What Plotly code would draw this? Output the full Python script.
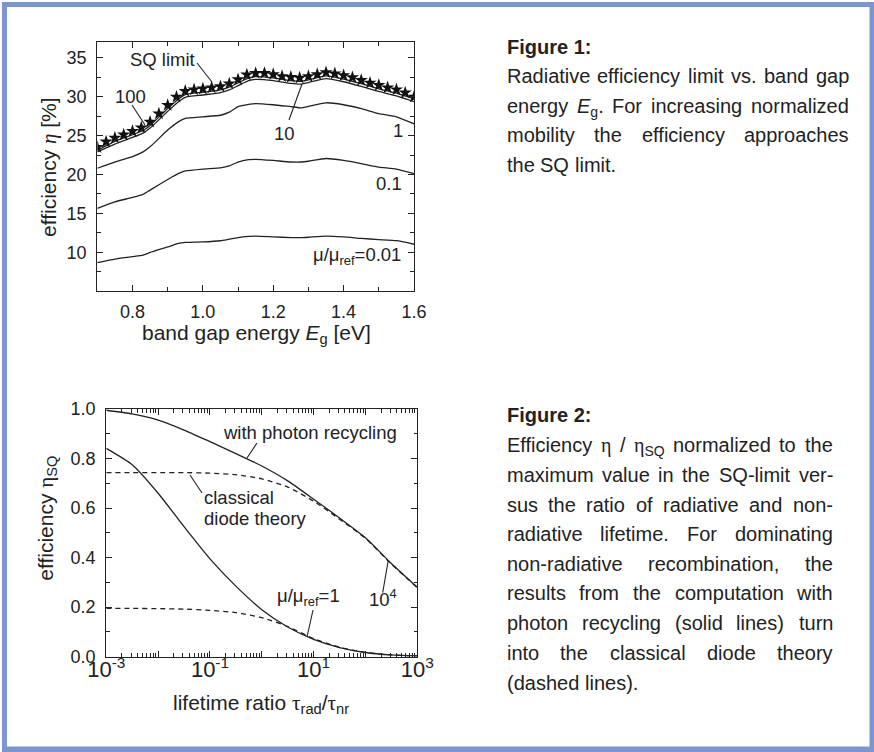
import plotly.graph_objects as go

# ---------------- data: Figure 1 ----------------
eg_stars = [0.700, 0.725, 0.750, 0.775, 0.800, 0.825, 0.850, 0.875, 0.900, 0.925,
            0.950, 0.975, 1.000, 1.025, 1.050, 1.075, 1.100, 1.125, 1.150, 1.175,
            1.200, 1.225, 1.250, 1.275, 1.300, 1.325, 1.350, 1.375, 1.400, 1.425,
            1.450, 1.475, 1.500, 1.525, 1.550, 1.575, 1.600]
eta_sq = [23.5, 24.2, 24.7, 25.1, 25.55, 26.0, 26.75, 27.8, 28.9, 29.95,
          30.7, 30.9, 31.0, 31.15, 31.3, 31.65, 32.2, 32.8, 33.0, 33.0,
          32.85, 32.6, 32.5, 32.4, 32.6, 32.85, 33.1, 32.95, 32.7, 32.45,
          32.1, 31.75, 31.45, 31.15, 30.9, 30.5, 29.95]

eg = [0.70, 0.75, 0.80, 0.83, 0.85, 0.90, 0.93, 0.95, 1.00, 1.05, 1.075, 1.10,
      1.13, 1.15, 1.20, 1.25, 1.28, 1.30, 1.35, 1.40, 1.45, 1.50, 1.55, 1.60]
eta_mu100 = [23.1, 24.25, 25.1, 25.65, 26.3, 28.45, 29.65, 30.25, 30.55, 30.85, 31.2, 31.75,
             32.4, 32.55, 32.4, 32.05, 31.95, 32.15, 32.65, 32.25, 31.65, 31.0, 30.45, 29.7]
eta_mu10 = [22.9, 23.9, 24.75, 25.3, 25.95, 28.1, 29.3, 29.9, 30.2, 30.5, 30.85, 31.4,
            32.05, 32.2, 32.05, 31.7, 31.6, 31.8, 32.3, 31.9, 31.3, 30.65, 30.1, 29.35]
eta_mu1 = [20.8, 21.6, 22.3, 22.9, 23.55, 25.7, 26.75, 27.2, 27.4, 27.6, 28.0, 28.7,
           29.0, 29.1, 28.95, 28.7, 28.55, 28.75, 29.2, 28.95, 28.45, 27.8, 27.4, 26.5]
eta_mu01 = [15.65, 16.5, 17.05, 17.45, 18.0, 19.35, 20.1, 20.45, 20.7, 20.85, 21.1, 21.6,
            21.9, 21.95, 21.8, 21.6, 21.6, 21.7, 22.05, 21.8, 21.4, 20.95, 20.7, 20.1]
eta_mu001 = [8.7, 9.15, 9.45, 9.65, 10.0, 10.7, 11.15, 11.3, 11.35, 11.5, 11.7, 11.9,
             12.05, 12.1, 12.0, 11.9, 11.9, 11.95, 12.1, 12.0, 11.8, 11.65, 11.5, 11.05]

# ---------------- data: Figure 2 ----------------
tau_ratio = [0.001, 0.00316, 0.01, 0.0316, 0.1, 0.316, 1.0, 3.16, 10.0, 31.6, 100.0, 316.0, 1000.0]
pr_mu1e4 = [0.995, 0.980, 0.955, 0.915, 0.868, 0.820, 0.770, 0.710, 0.636, 0.560, 0.480, 0.376, 0.280]
cl_mu1e4 = [0.743, 0.743, 0.743, 0.743, 0.741, 0.735, 0.718, 0.685, 0.628, 0.555, 0.478, 0.374, 0.279]
pr_mu1 = [0.841, 0.775, 0.660, 0.525, 0.395, 0.285, 0.190, 0.120, 0.070, 0.037, 0.017, 0.007, 0.003]
cl_mu1 = [0.195, 0.195, 0.194, 0.192, 0.187, 0.178, 0.158, 0.122, 0.073, 0.038, 0.017, 0.007, 0.003]

x2_tickvals = [0.001, 0.01, 0.1, 1, 10, 100, 1000]
x2_ticktext = ['10<sup>-3</sup>', '', '10<sup>-1</sup>', '', '10<sup>1</sup>', '', '10<sup>3</sup>']

W, H = 874, 752
INK = '#222222'
SANS = 'Liberation Sans, Arial, sans-serif'


def px(x):
    return x / W


def py(y):
    return 1 - y / H


fig = go.Figure()
LW = 1.3
for ys in [eta_mu100, eta_mu10, eta_mu1, eta_mu01, eta_mu001]:
    fig.add_trace(go.Scatter(x=eg, y=ys, mode='lines', line=dict(color=INK, width=LW, shape='spline', smoothing=0.5),
                             xaxis='x', yaxis='y', showlegend=False, hoverinfo='skip'))
fig.add_trace(go.Scatter(x=eg_stars, y=eta_sq, mode='markers',
                         marker=dict(symbol='star', size=10, color='#111111', line=dict(width=0)),
                         xaxis='x', yaxis='y', showlegend=False))

for ys, dash in [(pr_mu1e4, 'solid'), (cl_mu1e4, '5px,4px'), (pr_mu1, 'solid'), (cl_mu1, '5px,4px')]:
    fig.add_trace(go.Scatter(x=tau_ratio, y=ys, mode='lines',
                             line=dict(color=INK, width=LW, dash=dash, shape='spline', smoothing=0.6),
                             xaxis='x2', yaxis='y2', showlegend=False, hoverinfo='skip'))

axis_common = dict(showline=True, linecolor=INK, linewidth=1.2, mirror='ticks', ticks='inside',
                   ticklen=6, tickwidth=1.1, tickcolor=INK, showgrid=False, zeroline=False, automargin=False,
                   tickfont=dict(family=SANS, size=18, color=INK))

fig.update_layout(
    template='none',
    width=W, height=H, margin=dict(l=0, r=0, t=0, b=0, pad=0, autoexpand=False),
    paper_bgcolor='white', plot_bgcolor='white', showlegend=False,
    xaxis=dict(domain=[px(97.3), px(414)], range=[0.7, 1.6], tick0=0.8, dtick=0.2, tickformat='.1f',
               minor=dict(ticks='inside', ticklen=3.5, tickwidth=1.1, tickcolor=INK, dtick=0.1, tick0=0.7),
               anchor='y', ticklabelstandoff=4, **axis_common),
    yaxis=dict(domain=[py(291), py(42)], range=[5.05, 37], tick0=10, dtick=5,
               minor=dict(ticks='inside', ticklen=3.5, tickwidth=1.1, tickcolor=INK, dtick=2.5, tick0=0),
               anchor='x', ticklabelstandoff=6, **axis_common),
    xaxis2=dict(domain=[px(106.3), px(417.3)], type='log', range=[-3, 3], tickmode='array',
                tickvals=x2_tickvals, ticktext=x2_ticktext, ticklabelstandoff=-7,
                minor=dict(ticks='inside', ticklen=3.5, tickwidth=1.0, tickcolor=INK, dtick='D1'),
                anchor='y2', **{**axis_common, 'tickfont': dict(family=SANS, size=22, color=INK)}),
    yaxis2=dict(domain=[py(656.7), py(409)], range=[0, 1], tick0=0, dtick=0.2, tickformat='.1f',
                minor=dict(ticks='inside', ticklen=3.5, tickwidth=1.1, tickcolor=INK, dtick=0.1, tick0=0),
                anchor='x2', ticklabelstandoff=6, **axis_common),
)

ann = []


def text(s, x, y, size=18.5, xa='center', ya='middle', angle=0, color=INK, family=SANS):
    ann.append(dict(text=s, x=px(x), y=py(y), xref='paper', yref='paper', showarrow=False,
                    xanchor=xa, yanchor=ya, textangle=angle, borderpad=0, borderwidth=0,
                    font=dict(family=family, size=size, color=color)))


shapes = []


def leader(x0, y0, x1, y1):
    shapes.append(dict(type='line', xref='paper', yref='paper', x0=px(x0), y0=py(y0), x1=px(x1), y1=py(y1),
                       line=dict(color=INK, width=1.1)))


eta = '<span style="font-family:Liberation Serif">η</span>'
eta_i = '<span style="font-family:Liberation Serif"><i>η</i></span>'
tau = '<span style="font-family:Liberation Serif">τ</span>'

# axis titles
text('efficiency ' + eta_i + ' [%]', 48.3, 166.7, size=21, angle=-90)
text('band gap energy <i>E</i><sub>g</sub> [eV]', 256, 334, size=21)
text('efficiency ' + eta + '<sub>SQ</sub>', 46.7, 518, size=21, angle=-90)
text('lifetime ratio ' + tau + '<sub>rad</sub>/' + tau + '<sub>nr</sub>', 261, 704, size=21)

# chart labels figure 1
text('SQ limit', 162, 60)
leader(197, 63, 212, 82)
text('100', 130, 97)
leader(132, 105, 145, 125)
text('10', 284, 133)
leader(289, 120, 302, 84)
text('1', 398, 130)
text('0.1', 389, 183)
text('μ/μ<sub>ref</sub>=0.01', 401, 256, xa='right')

# chart labels figure 2
text('with photon recycling', 310, 432)
leader(257, 443, 247, 458)
text('classical', 204, 497, xa='left')
text('diode theory', 204, 518, xa='left')
leader(202, 493, 190, 475)
text('μ/μ<sub>ref</sub>=1', 308, 597)
leader(313, 610, 307, 637)
text('10<sup>4</sup>', 383, 598)
leader(382.7, 592.7, 388.3, 560)

# -------- justified caption text --------
AW = {' ': 278, '!': 278, '(': 333, ')': 333, ',': 278, '-': 333, '.': 278, '/': 278, ':': 278, '=': 584,
      'A': 667, 'B': 667, 'C': 722, 'D': 722, 'E': 667, 'F': 611, 'G': 778, 'H': 722, 'I': 278, 'J': 500,
      'K': 667, 'L': 556, 'M': 833, 'N': 722, 'O': 778, 'P': 667, 'Q': 778, 'R': 722, 'S': 667, 'T': 611,
      'U': 722, 'V': 667, 'W': 944, 'X': 667, 'Y': 667, 'Z': 611,
      'a': 556, 'b': 556, 'c': 500, 'd': 556, 'e': 556, 'f': 278, 'g': 556, 'h': 556, 'i': 222, 'j': 222,
      'k': 500, 'l': 222, 'm': 833, 'n': 556, 'o': 556, 'p': 556, 'q': 556, 'r': 333, 's': 500, 't': 278,
      'u': 556, 'v': 500, 'w': 722, 'x': 500, 'y': 500, 'z': 500}
BODY = 20


def wunits(wd):
    if isinstance(wd, tuple):
        return wd[1]
    return sum(AW.get(c, 556) for c in wd)


def para_line(words, x0, x1, yc, justify=True, size=BODY):
    ws = [wunits(w) * size / 1000 for w in words]
    htmls = [w[0] if isinstance(w, tuple) else w for w in words]
    ytop = yc - 0.55 * size
    if not justify or len(words) == 1:
        gap = 278 * size / 1000
    else:
        gap = (x1 - x0 - sum(ws)) / (len(words) - 1)
    xx = x0
    for i, (h, w) in enumerate(zip(htmls, ws)):
        if justify and i == len(words) - 1 and len(words) > 1:
            text(h, x1, ytop, size=size, xa='right', ya='top')
        else:
            text(h, xx, ytop, size=size, xa='left', ya='top')
        xx += w + gap


text('<b>Figure 1:</b>', 506.7, 47.5 - 11, size=BODY, xa='left', ya='top')
X0, X1a, X1b = 506.7, 849.3, 832.7
fig1_lines = [
    ['Radiative', 'efficiency', 'limit', 'vs.', 'band', 'gap'],
    ['energy', ('<i>E</i><sub>g</sub>.', 667 + 389 + 278), 'For', 'increasing', 'normalized'],
    ['mobility', 'the', 'efficiency', 'approaches'],
]
fig1_y = [76.5, 105.5, 135]
for words, yc in zip(fig1_lines, fig1_y):
    para_line(words, X0, X1a, yc)
para_line(['the', 'SQ', 'limit.'], X0, X1a, 164.5, justify=False)

text('<b>Figure 2:</b>', 506.7, 414.5 - 11, size=BODY, xa='left', ya='top')
fig2_lines = [
    ['Efficiency', (eta, 500), '/', (eta + '<sub>SQ</sub>', 500 + 1012), 'normalized', 'to', 'the'],
    ['maximum', 'value', 'in', 'the', 'SQ-limit', 'ver-'],
    ['sus', 'the', 'ratio', 'of', 'radiative', 'and', 'non-'],
    ['radiative', 'lifetime.', 'For', 'dominating'],
    ['non-radiative', 'recombination,', 'the'],
    ['results', 'from', 'the', 'computation', 'with'],
    ['photon', 'recycling', '(solid', 'lines)', 'turn'],
    ['into', 'the', 'classical', 'diode', 'theory'],
]
fig2_y = [445, 474.5, 504.5, 533.5, 563.5, 593, 623, 652.5]
for words, yc in zip(fig2_lines, fig2_y):
    para_line(words, X0, X1b, yc)
para_line(['(dashed', 'lines).'], X0, X1b, 682.5, justify=False)

# -------- blue frame --------
FRAME = '#7e96cf'
for (a, b, c, d) in [(2, 2, 7, 749), (2, 2, 874, 7), (869.5, 2, 874, 752), (2, 746.5, 874, 752)]:
    shapes.append(dict(type='rect', xref='paper', yref='paper', x0=px(a), x1=px(c), y0=py(b), y1=py(d),
                       fillcolor=FRAME, line=dict(width=0), layer='above'))

fig.update_layout(annotations=ann, shapes=shapes)
fig.write_html('out.html', config={'displayModeBar': False},
               post_script="document.body.style.margin='0px';document.body.style.overflow='hidden';")
